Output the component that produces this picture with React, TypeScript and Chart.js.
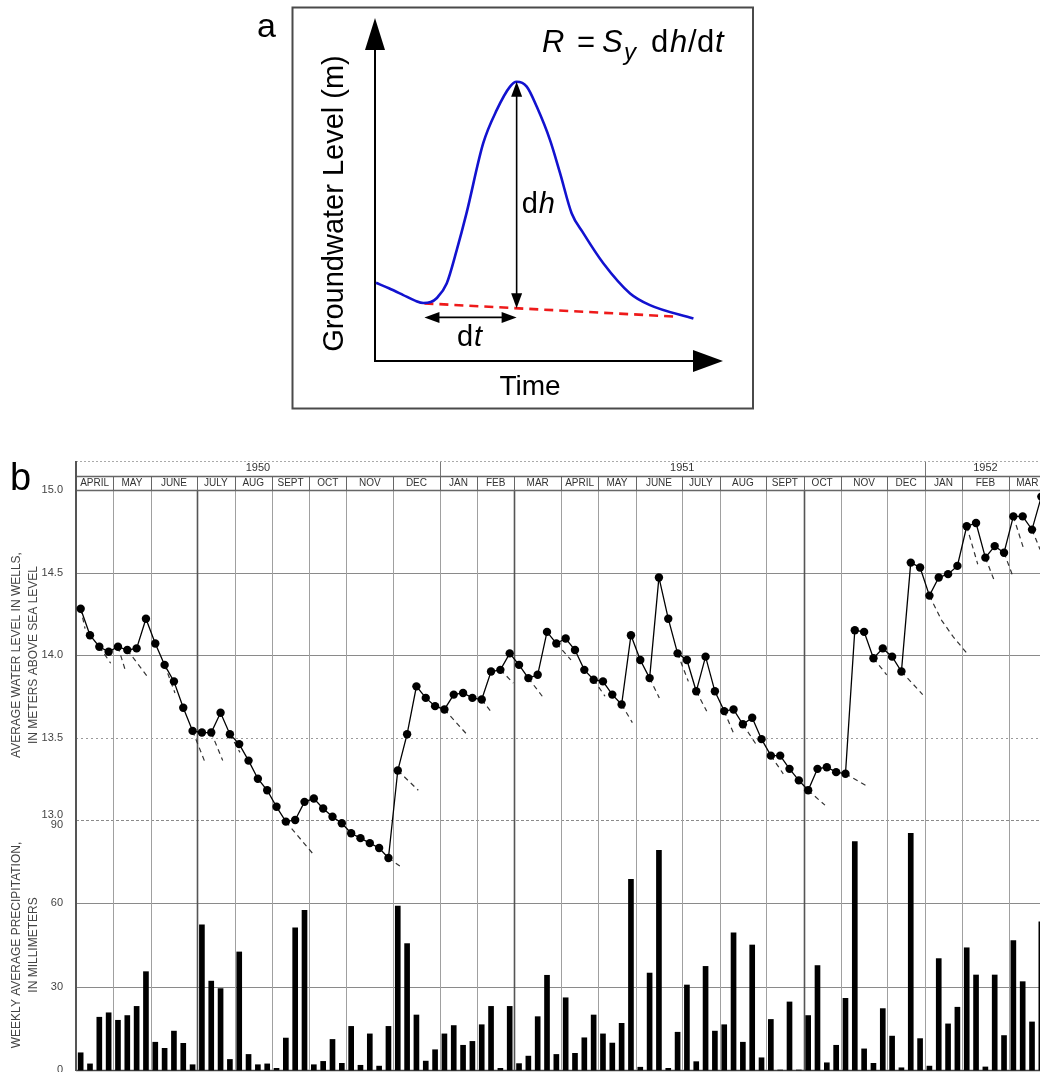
import React, { useEffect, useRef } from 'react';
import { Chart, registerables } from 'chart.js';

Chart.register(...registerables);

const FONT = 'Arial, "Liberation Sans", Helvetica, sans-serif';

// ---------------- Panel a (schematic) ----------------
const schematicTime = [0.3, 4.0, 8.0, 11.5, 13.9, 16.0, 17.7, 20.6, 23.5, 26.3, 31.1, 35.0, 38.8, 40.7, 43.6, 46.5, 50.3, 53.2, 56.5, 59.9, 65.6, 73.3, 79.0, 91.5];
const schematicLevel = [22.8, 21.2, 19.3, 17.6, 16.9, 17.2, 18.3, 22.6, 32.4, 43.1, 63.5, 73.2, 80.0, 81.4, 80.0, 74.1, 64.4, 54.7, 43.1, 37.2, 28.5, 19.7, 16.3, 12.4];
const recessionTime = [14.2, 87.2];
const recessionLevel = [16.8, 12.9];

// ---------------- Panel b (hydrograph) ----------------
const monthNames = ['APRIL', 'MAY', 'JUNE', 'JULY', 'AUG', 'SEPT', 'OCT', 'NOV', 'DEC', 'JAN', 'FEB', 'MAR',
  'APRIL', 'MAY', 'JUNE', 'JULY', 'AUG', 'SEPT', 'OCT', 'NOV', 'DEC', 'JAN', 'FEB', 'MAR'];
const monthWeeks = [4, 4, 5, 4, 4, 4, 4, 5, 5, 4, 4, 5, 4, 4, 5, 4, 5, 4, 4, 5, 4, 4, 5, 4];
const yearNames = ['1950', '1951', '1952'];
const yearWeeks = [39, 52, 13];
const heavyMonthStarts = [3, 11, 18];
const levelTicks = [13.0, 13.5, 14.0, 14.5, 15.0];
const precipTicks = [0, 30, 60, 90];

const waterLevel = [
  14.28, 14.12, 14.05, 14.02, 14.05, 14.03, 14.04, 14.22, 14.07, 13.94,
  13.84, 13.68, 13.54, 13.53, 13.53, 13.65, 13.52, 13.46, 13.36, 13.25,
  13.18, 13.08, 12.99, 13.00, 13.11, 13.13, 13.07, 13.02, 12.98, 12.92,
  12.89, 12.86, 12.83, 12.77, 13.30, 13.52, 13.81, 13.74, 13.69, 13.67,
  13.76, 13.77, 13.74, 13.73, 13.90, 13.91, 14.01, 13.94, 13.86, 13.88,
  14.14, 14.07, 14.10, 14.03, 13.91, 13.85, 13.84, 13.76, 13.70, 14.12,
  13.97, 13.86, 14.47, 14.22, 14.01, 13.97, 13.78, 13.99, 13.78, 13.66,
  13.67, 13.58, 13.62, 13.49, 13.39, 13.39, 13.31, 13.24, 13.18, 13.31,
  13.32, 13.29, 13.28, 14.15, 14.14, 13.98, 14.04, 13.99, 13.90, 14.56,
  14.53, 14.36, 14.47, 14.49, 14.54, 14.78, 14.80, 14.59, 14.66, 14.62,
  14.84, 14.84, 14.76, 14.96,
];

const precipitation = [
  6.2, 2.2, 19.0, 20.6, 17.9, 19.6, 22.9, 35.4, 10.0, 7.8,
  14.0, 9.6, 1.9, 52.3, 32.0, 29.3, 3.8, 42.5, 5.6, 1.9,
  2.2, 0.6, 11.5, 51.2, 57.5, 1.9, 3.1, 11.0, 2.4, 15.7,
  1.7, 13.0, 1.4, 15.7, 59.0, 45.5, 19.8, 3.2, 7.3, 13.0,
  16.0, 8.9, 10.3, 16.3, 22.9, 0.6, 22.9, 2.3, 5.0, 19.2,
  34.1, 5.6, 26.0, 6.0, 11.6, 19.8, 13.0, 9.7, 16.8, 68.6,
  1.0, 34.9, 79.1, 0.6, 13.6, 30.6, 3.0, 37.3, 14.0, 16.3,
  49.4, 10.0, 45.0, 4.4, 18.2, 0, 24.5, 0, 19.6, 37.6,
  2.6, 8.9, 25.8, 82.2, 7.6, 2.4, 22.1, 12.2, 0.8, 85.2,
  11.3, 1.4, 40.1, 16.6, 22.6, 44.0, 34.2, 1.1, 34.2, 12.4,
  46.6, 31.8, 17.3, 53.3,
];

// recession extrapolations: starting week index and the extrapolated [week, level] path
const extensionStart = [0, 2, 4, 5, 9, 12, 14, 16, 22, 33, 34, 39, 43, 45, 48, 51, 55, 58, 61, 64, 66, 69, 71, 74, 78, 82, 85, 88, 91, 95, 97, 99, 100, 102];
const extensionPath: number[][][] = [
  [[0.97, 14.16]], [[3.72, 13.95]], [[5.33, 13.90]], [[7.65, 13.87]], [[10.61, 13.77]],
  [[13.76, 13.36]], [[15.73, 13.36]], [[17.58, 13.41]], [[25.33, 12.80]], [[34.98, 12.71]],
  [[36.70, 13.18]], [[41.89, 13.52]], [[44.57, 13.65]], [[46.89, 13.83]], [[49.99, 13.75]],
  [[53.07, 13.97]], [[56.72, 13.75]], [[59.65, 13.59]], [[62.54, 13.74]], [[65.65, 13.84]],
  [[67.62, 13.66]], [[70.47, 13.53]], [[72.90, 13.46]], [[75.83, 13.28]], [[80.30, 13.09]],
  [[84.67, 13.21]], [[86.92, 13.88]], [[90.78, 13.76]],
  [[92.81, 14.21], [94.06, 14.11], [95.67, 14.00]],
  [[96.68, 14.55]], [[98.53, 14.44]], [[100.43, 14.48]], [[101.57, 14.65]], [[103.36, 14.64]],
];

const cumulative = (arr: number[]) =>
  arr.reduce<number[]>((acc, w) => { acc.push(acc[acc.length - 1] + w); return acc; }, [0]);
const monthEdges = cumulative(monthWeeks);
const yearEdges = cumulative(yearWeeks);
const monthCenters = monthNames.map((_, i) => (monthEdges[i] + monthEdges[i + 1]) / 2);
const yearCenters = yearNames.map((_, i) => (yearEdges[i] + yearEdges[i + 1]) / 2);
const totalWeeks = monthEdges[monthEdges.length - 1];

const extensionData: { x: number; y: number | null }[] = [];
extensionStart.forEach((i, k) => {
  extensionData.push({ x: i + 0.5, y: waterLevel[i] });
  extensionPath[k].forEach(([w, l]) => extensionData.push({ x: w, y: l }));
  const last = extensionPath[k][extensionPath[k].length - 1];
  extensionData.push({ x: last[0], y: null });
});

// ---------------- helpers ----------------
function arrowHead(ctx: CanvasRenderingContext2D, tipX: number, tipY: number, dx: number, dy: number, len: number, half: number) {
  const bx = tipX - dx * len;
  const by = tipY - dy * len;
  const px = -dy;
  const py = dx;
  ctx.beginPath();
  ctx.moveTo(tipX, tipY);
  ctx.lineTo(bx + px * half, by + py * half);
  ctx.lineTo(bx - px * half, by - py * half);
  ctx.closePath();
  ctx.fill();
}

const schematicPlugin = {
  id: 'schematic',
  beforeDatasetsDraw(chart: any) {
    const { ctx, chartArea: ca } = chart;
    ctx.save();
    ctx.strokeStyle = '#4a4a4a';
    ctx.lineWidth = 2;
    ctx.strokeRect(52.5, 7.5, 460.5, 401);
    ctx.strokeStyle = '#000';
    ctx.fillStyle = '#000';
    ctx.lineWidth = 2;
    ctx.beginPath();
    ctx.moveTo(ca.left, ca.bottom + 1);
    ctx.lineTo(ca.left, ca.top + 20);
    ctx.stroke();
    arrowHead(ctx, ca.left, ca.top, 0, -1, 32, 10);
    ctx.beginPath();
    ctx.moveTo(ca.left - 1, ca.bottom);
    ctx.lineTo(ca.right - 20, ca.bottom);
    ctx.stroke();
    arrowHead(ctx, ca.right, ca.bottom, 1, 0, 30, 11);
    ctx.restore();
  },
  afterDatasetsDraw(chart: any) {
    const { ctx, scales: { x, y } } = chart;
    const peakIdx = schematicLevel.indexOf(Math.max(...schematicLevel));
    const tPeak = schematicTime[peakIdx];
    const slope = (recessionLevel[1] - recessionLevel[0]) / (recessionTime[1] - recessionTime[0]);
    const lBase = recessionLevel[0] + slope * (tPeak - recessionTime[0]);
    const px = x.getPixelForValue(tPeak);
    const yTop = y.getPixelForValue(schematicLevel[peakIdx]);
    const yBot = y.getPixelForValue(lBase);
    const x0 = x.getPixelForValue(recessionTime[0]);
    const dtY = y.getPixelForValue(recessionLevel[0]) + 14;

    ctx.save();
    ctx.strokeStyle = '#000';
    ctx.fillStyle = '#000';
    ctx.lineWidth = 1.6;
    // dh arrow
    ctx.beginPath();
    ctx.moveTo(px, yTop + 10);
    ctx.lineTo(px, yBot - 10);
    ctx.stroke();
    arrowHead(ctx, px, yTop, 0, -1, 15, 5.5);
    arrowHead(ctx, px, yBot, 0, 1, 15, 5.5);
    // dt arrow
    ctx.beginPath();
    ctx.moveTo(x0 + 10, dtY);
    ctx.lineTo(px - 10, dtY);
    ctx.stroke();
    arrowHead(ctx, x0, dtY, -1, 0, 15, 5.5);
    arrowHead(ctx, px, dtY, 1, 0, 15, 5.5);

    const reg = (s: number) => `${s}px ${FONT}`;
    const ita = (s: number) => `italic ${s}px ${FONT}`;
    ctx.textBaseline = 'alphabetic';
    ctx.textAlign = 'left';

    // dh label
    const midY = (yTop + yBot) / 2;
    ctx.font = reg(29);
    ctx.fillText('d', px + 5, midY + 18);
    const wd = ctx.measureText('d').width;
    ctx.font = ita(29);
    ctx.fillText('h', px + 5 + wd + 1, midY + 18);

    // dt label
    ctx.font = reg(29);
    const wd2 = ctx.measureText('d').width;
    ctx.font = ita(29);
    const wt = ctx.measureText('t').width;
    const cx = (x0 + px) / 2 - 1;
    const startX = cx - (wd2 + wt + 1) / 2;
    ctx.font = reg(29);
    ctx.fillText('d', startX, dtY + 29);
    ctx.font = ita(29);
    ctx.fillText('t', startX + wd2 + 1, dtY + 29);

    // Time
    ctx.font = reg(28);
    ctx.textAlign = 'center';
    ctx.fillText('Time', 290, 395);

    // Y title
    ctx.save();
    ctx.translate(95, 203.5);
    ctx.rotate(-Math.PI / 2);
    ctx.font = reg(29);
    ctx.textBaseline = 'middle';
    ctx.fillText('Groundwater Level (m)', 0, 0);
    ctx.restore();

    // formula R = Sy dh/dt
    ctx.textAlign = 'left';
    ctx.textBaseline = 'alphabetic';
    const pieces: [string, string, number, number][] = [
      ['R', ita(31), 302, 52],
      ['=', reg(31), 337, 52],
      ['S', ita(31), 362, 52],
      ['y', ita(24), 384, 60],
      ['d', reg(31), 411, 52],
      ['h', ita(31), 430, 52],
      ['/', reg(31), 448, 52],
      ['d', reg(31), 457, 52],
      ['t', ita(31), 475, 52],
    ];
    pieces.forEach(([t, f, tx, ty]) => {
      ctx.font = f;
      ctx.fillText(t, tx, ty);
    });

    // panel label
    ctx.font = reg(34);
    ctx.fillText('a', 17, 37);
    ctx.restore();
  },
};

const hydroPlugin = {
  id: 'hydro',
  beforeDatasetsDraw(chart: any) {
    const { ctx, chartArea: ca, scales } = chart;
    const x = scales.x;
    const yL = scales.yL;
    const yP = scales.yP;
    const headerTop = scales.xYear.top;
    const rowSplit = scales.xYear.bottom;
    const snap = (v: number) => Math.round(v) + 0.5;
    const seg = (x1: number, y1: number, x2: number, y2: number, color: string, width: number, dash: number[] = []) => {
      ctx.beginPath();
      ctx.setLineDash(dash);
      ctx.strokeStyle = color;
      ctx.lineWidth = width;
      ctx.moveTo(x1, y1);
      ctx.lineTo(x2, y2);
      ctx.stroke();
    };
    ctx.save();
    // horizontal grid (water level)
    levelTicks.forEach((v) => {
      if (v === 15 || v === 13) return;
      const py = snap(yL.getPixelForValue(v));
      if (v === 13.5) seg(ca.left, py, ca.right, py, '#9a9a9a', 1, [2, 3]);
      else seg(ca.left, py, ca.right, py, '#8a8a8a', 1);
    });
    // horizontal grid (precipitation)
    precipTicks.forEach((v) => {
      const py = snap(yP.getPixelForValue(v));
      if (v === 90) seg(ca.left, py, ca.right, py, '#8a8a8a', 1, [3, 2]);
      else if (v === 0) seg(ca.left, py, ca.right, py, '#444', 1.5);
      else seg(ca.left, py, ca.right, py, '#8a8a8a', 1);
    });
    // vertical month lines
    monthEdges.forEach((w, i) => {
      if (i === 0 || i === monthEdges.length - 1) return;
      const px = snap(x.getPixelForValue(w));
      const heavy = heavyMonthStarts.includes(i);
      seg(px, ca.top, px, ca.bottom, heavy ? '#555' : '#a0a0a0', heavy ? 1.6 : 1);
      seg(px, rowSplit, px, ca.top, '#666', 1);
    });
    // year separators
    yearEdges.forEach((w, i) => {
      if (i === 0 || i === yearEdges.length - 1) return;
      const px = snap(x.getPixelForValue(w));
      seg(px, headerTop, px, rowSplit, '#777', 1);
    });
    // header lines
    seg(ca.left, snap(headerTop), ca.right, snap(headerTop), '#aaa', 1, [2, 2]);
    seg(ca.left, snap(rowSplit), ca.right, snap(rowSplit), '#666', 1.5);
    seg(ca.left, snap(ca.top), ca.right, snap(ca.top), '#666', 1.5);
    // left frame
    seg(ca.left, headerTop, ca.left, ca.bottom + 1, '#555', 2);
    // panel label
    ctx.setLineDash([]);
    ctx.fillStyle = '#000';
    ctx.font = `38px ${FONT}`;
    ctx.textAlign = 'left';
    ctx.textBaseline = 'alphabetic';
    ctx.fillText('b', 10, ca.top);
    ctx.restore();
  },
};

function PanelA() {
  const ref = useRef<HTMLCanvasElement>(null);
  useEffect(() => {
    const chart = new Chart(ref.current as HTMLCanvasElement, {
      type: 'line',
      data: {
        datasets: [
          {
            data: schematicTime.map((t, i) => ({ x: t, y: schematicLevel[i] })),
            borderColor: '#1212cf',
            borderWidth: 2.6,
            pointRadius: 0,
            cubicInterpolationMode: 'monotone',
            fill: false,
            order: 0,
          },
          {
            data: recessionTime.map((t, i) => ({ x: t, y: recessionLevel[i] })),
            borderColor: '#ee1a1a',
            borderWidth: 2.6,
            borderDash: [9, 6],
            pointRadius: 0,
            fill: false,
            order: 1,
          },
        ],
      } as any,
      options: {
        responsive: false,
        animation: false,
        events: [],
        layout: { autoPadding: false, padding: { left: 135, right: 37, top: 18, bottom: 51 } },
        scales: {
          x: { type: 'linear', min: 0, max: 100, display: false },
          y: { type: 'linear', min: 0, max: 100, display: false },
        },
        plugins: { legend: { display: false }, tooltip: { enabled: false } },
      } as any,
      plugins: [schematicPlugin],
    });
    return () => chart.destroy();
  }, []);
  return (
    <canvas ref={ref} width={520} height={412}
      style={{ position: 'absolute', left: 240, top: 0, width: 520, height: 412 }} />
  );
}

function PanelB() {
  const ref = useRef<HTMLCanvasElement>(null);
  useEffect(() => {
    const tickFont = { family: FONT, size: 11, lineHeight: 0.9 };
    const chart = new Chart(ref.current as HTMLCanvasElement, {
      type: 'line',
      data: {
        datasets: [
          {
            type: 'bar',
            label: 'Weekly precipitation',
            data: precipitation.map((v, i) => ({ x: i + 0.5, y: v })),
            xAxisID: 'x',
            yAxisID: 'yP',
            backgroundColor: '#000',
            barThickness: 5,
            order: 3,
            clip: false,
          },
          {
            type: 'line',
            label: 'Recession extrapolation',
            data: extensionData,
            xAxisID: 'x',
            yAxisID: 'yL',
            borderColor: '#333',
            borderWidth: 1.2,
            borderDash: [5, 4],
            pointRadius: 0,
            spanGaps: false,
            order: 2,
            clip: false,
          },
          {
            type: 'line',
            label: 'Water level',
            data: waterLevel.map((v, i) => ({ x: i + 0.5, y: v })),
            xAxisID: 'x',
            yAxisID: 'yL',
            borderColor: '#000',
            borderWidth: 1.3,
            pointRadius: 4.2,
            pointBackgroundColor: '#000',
            pointBorderColor: '#000',
            pointBorderWidth: 0,
            order: 1,
            clip: false,
          },
        ],
      } as any,
      options: {
        responsive: false,
        animation: false,
        events: [],
        layout: { autoPadding: false, padding: { left: 0, right: 0, top: 21, bottom: 2 } },
        scales: {
          x: {
            type: 'linear', position: 'top', min: 0, max: totalWeeks, offset: false, weight: 1,
            grid: { display: false, drawTicks: false, offset: false },
            border: { display: false },
            ticks: {
              autoSkip: false, maxRotation: 0, minRotation: 0, padding: 1, color: '#333',
              font: { family: FONT, size: 10 },
              callback: (_v: any, i: number) => monthNames[i] ?? '',
            },
            afterBuildTicks: (s: any) => { s.ticks = monthCenters.map((v) => ({ value: v })); },
            afterFit: (s: any) => { s.height = 14; s.paddingLeft = 0; s.paddingRight = 0; },
          },
          xYear: {
            type: 'linear', position: 'top', min: 0, max: totalWeeks, offset: false, weight: 2,
            grid: { display: false, drawTicks: false, offset: false },
            border: { display: false },
            ticks: {
              autoSkip: false, maxRotation: 0, minRotation: 0, padding: 1.4, color: '#333',
              font: { family: FONT, size: 11 },
              callback: (_v: any, i: number) => yearNames[i] ?? '',
            },
            afterBuildTicks: (s: any) => { s.ticks = yearCenters.map((v) => ({ value: v })); },
            afterFit: (s: any) => { s.height = 15; s.paddingLeft = 0; s.paddingRight = 0; },
          },
          yL: {
            type: 'linear', position: 'left', stack: 'left', stackWeight: 330, weight: 2,
            min: 13, max: 15,
            grid: { display: false, drawTicks: false },
            border: { display: false },
            ticks: {
              padding: 13, color: '#444', font: tickFont,
              callback: (v: any) => (Number(v) === 13 ? ['13.0', ''] : Number(v).toFixed(1)),
            },
            title: {
              display: true,
              text: ['AVERAGE WATER LEVEL IN WELLS,', 'IN METERS ABOVE SEA LEVEL'],
              color: '#444',
              font: { family: FONT, size: 12, lineHeight: 1.38 },
              padding: { top: 8.4, bottom: 0 },
            },
            afterBuildTicks: (s: any) => { s.ticks = levelTicks.map((v) => ({ value: v })); },
            afterFit: (s: any) => { s.width = 76; s.paddingTop = 0; s.paddingBottom = 0; },
          },
          yP: {
            type: 'linear', position: 'left', stack: 'left', stackWeight: 250, weight: 1,
            min: 0, max: 90,
            grid: { display: false, drawTicks: false },
            border: { display: false },
            ticks: {
              padding: 13, color: '#444', font: tickFont,
              callback: (v: any) => (Number(v) === 90 ? ['', '90'] : String(v)),
            },
            title: {
              display: true,
              text: ['WEEKLY AVERAGE PRECIPITATION,', 'IN MILLIMETERS'],
              color: '#444',
              font: { family: FONT, size: 12, lineHeight: 1.38 },
              padding: { top: 8.4, bottom: 0 },
            },
            afterBuildTicks: (s: any) => { s.ticks = precipTicks.map((v) => ({ value: v })); },
            afterFit: (s: any) => { s.width = 76; s.paddingTop = 0; s.paddingBottom = 0; },
          },
        },
        plugins: { legend: { display: false }, tooltip: { enabled: false } },
      } as any,
      plugins: [hydroPlugin],
    });
    return () => chart.destroy();
  }, []);
  return (
    <canvas ref={ref} width={1046} height={632}
      style={{ position: 'absolute', left: 0, top: 440, width: 1046, height: 632 }} />
  );
}

export default function App() {
  return (
    <div style={{ position: 'fixed', left: 0, top: 0, width: 1040, height: 1072, overflow: 'hidden', background: '#fff' }}>
      <PanelA />
      <PanelB />
    </div>
  );
}
